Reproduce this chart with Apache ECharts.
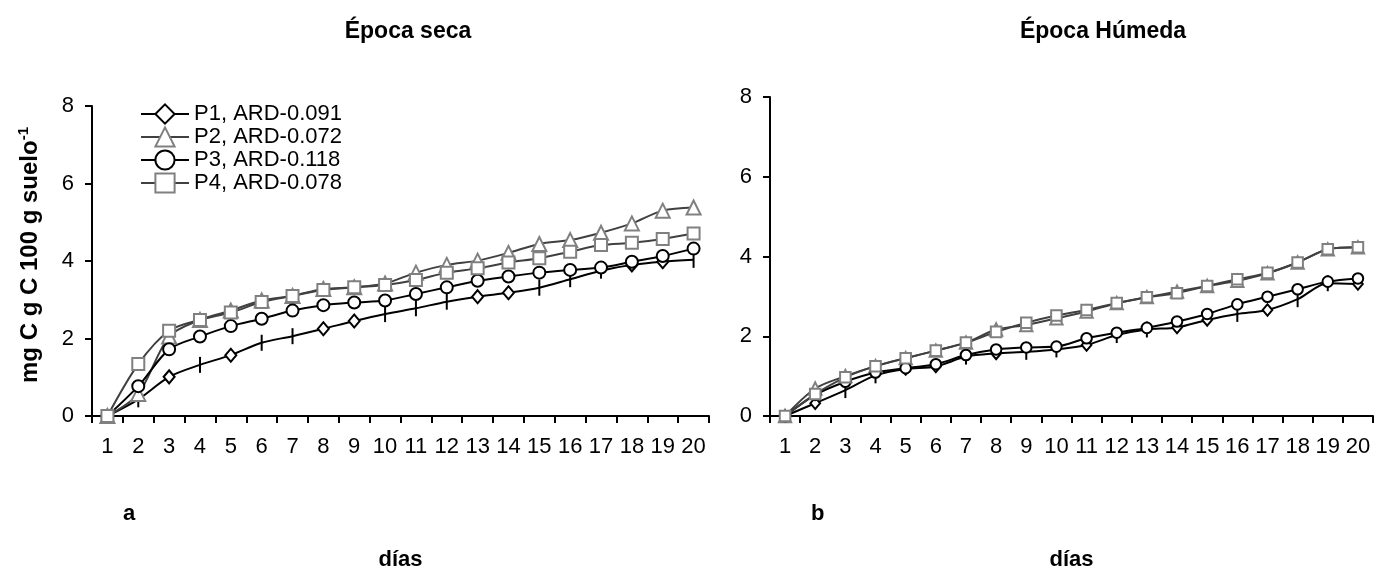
<!DOCTYPE html>
<html>
<head>
<meta charset="utf-8">
<title>Época seca / Época Húmeda</title>
<script src="https://cdn.jsdelivr.net/npm/echarts@6/dist/echarts.min.js"></script>
<style>
  html, body { margin: 0; padding: 0; background: #fff; }
  #chart { width: 1390px; height: 571px; }
</style>
</head>
<body>
<div id="chart"></div>
<script>
const days = ['1', '2', '3', '4', '5', '6', '7', '8', '9', '10', '11', '12', '13', '14', '15', '16', '17', '18', '19', '20'];
const yTicks = [0, 2, 4, 6, 8];

// Época seca
const p1Dry = [0, 0.43, 1.01, 1.32, 1.57, 1.89, 2.06, 2.25, 2.45, 2.63, 2.78, 2.95, 3.08, 3.18, 3.31, 3.53, 3.75, 3.90, 3.98, 4.03];
const p2Dry = [0, 0.57, 2.05, 2.48, 2.72, 2.98, 3.10, 3.28, 3.32, 3.42, 3.70, 3.90, 4.01, 4.21, 4.44, 4.54, 4.73, 4.97, 5.30, 5.38];
const p3Dry = [0, 0.77, 1.72, 2.05, 2.32, 2.51, 2.72, 2.86, 2.93, 2.98, 3.15, 3.32, 3.49, 3.60, 3.70, 3.77, 3.83, 3.98, 4.13, 4.32];
const p4Dry = [0, 1.34, 2.20, 2.48, 2.67, 2.94, 3.10, 3.25, 3.32, 3.38, 3.51, 3.70, 3.81, 3.96, 4.07, 4.24, 4.41, 4.47, 4.57, 4.71];

// Época Húmeda
const p1Wet = [0, 0.32, 0.65, 1.02, 1.18, 1.24, 1.49, 1.57, 1.61, 1.67, 1.78, 2.03, 2.17, 2.22, 2.41, 2.56, 2.66, 2.93, 3.33, 3.31];
const p2Wet = [0, 0.69, 1.00, 1.25, 1.45, 1.64, 1.84, 2.17, 2.28, 2.45, 2.62, 2.83, 2.98, 3.12, 3.26, 3.39, 3.58, 3.85, 4.18, 4.23];
const p3Wet = [0, 0.53, 0.86, 1.09, 1.20, 1.30, 1.53, 1.67, 1.72, 1.74, 1.95, 2.09, 2.21, 2.37, 2.56, 2.80, 2.99, 3.18, 3.37, 3.45];
const p4Wet = [0, 0.55, 0.97, 1.25, 1.45, 1.64, 1.84, 2.11, 2.34, 2.52, 2.66, 2.83, 2.98, 3.08, 3.26, 3.43, 3.59, 3.85, 4.18, 4.23];

// P1 marker at each day: d = diamond, t = vertical bar
const p1DryMarks = ['d', 't', 'd', 't', 'd', 't', 't', 'd', 'd', 't', 't', 't', 'd', 'd', 't', 't', 't', 'd', 'd', 't'];
const p1WetMarks = ['d', 'd', 't', 't', 'd', 'd', 't', 'd', 't', 't', 'd', 't', 't', 'd', 'd', 't', 'd', 't', 't', 'd'];

const seriesNames = ['P1, ARD-0.091', 'P2, ARD-0.072', 'P3, ARD-0.118', 'P4, ARD-0.078'];

const FONT = 'Liberation Sans, Arial, sans-serif';

function p1Data(values, marks) {
  return values.map((v, i) => marks[i] === 't'
    ? { value: v, symbol: 'rect', symbolSize: [2, 16], itemStyle: { color: '#000', borderWidth: 0 } }
    : v);
}

function makeSeries(idx) {
  const sets = idx === 0
    ? [p1Data(p1Dry, p1DryMarks), p2Dry, p3Dry, p4Dry]
    : [p1Data(p1Wet, p1WetMarks), p2Wet, p3Wet, p4Wet];
  const k = idx === 0 ? 1 : 0.88;
  const styles = [
    { symbol: 'diamond', size: [11 * k, 13 * k], line: '#000', mark: '#000' },
    { symbol: 'triangle', size: 14 * k, line: '#404040', mark: '#808080' },
    { symbol: 'circle', size: 12 * k, line: '#000', mark: '#000' },
    { symbol: 'rect', size: 12 * k, line: '#404040', mark: '#808080' },
  ];
  return sets.map((data, i) => ({
    name: seriesNames[i],
    type: 'line',
    xAxisIndex: idx,
    yAxisIndex: idx,
    smooth: 0.3,
    data: data,
    symbol: styles[i].symbol,
    symbolSize: styles[i].size,
    showAllSymbol: true,
    lineStyle: { color: styles[i].line, width: 2 },
    itemStyle: { color: '#fff', borderColor: styles[i].mark, borderWidth: 2 },
    emphasis: { disabled: true },
  }));
}

function makeXAxis(idx) {
  return {
    type: 'category',
    gridIndex: idx,
    data: days,
    boundaryGap: true,
    name: 'días',
    nameLocation: 'middle',
    nameGap: 133,
    nameTextStyle: { fontFamily: FONT, fontSize: 22, fontWeight: 'bold', color: '#000' },
    axisLine: { lineStyle: { color: '#000', width: 2 } },
    axisTick: { show: true, length: 7, alignWithLabel: false, interval: 0, lineStyle: { color: '#000', width: 2 } },
    axisLabel: { interval: 0, hideOverlap: false, margin: 20, fontFamily: FONT, fontSize: 22, color: '#000' },
    splitLine: { show: false },
  };
}

function makeYAxis(idx) {
  return {
    type: 'value',
    gridIndex: idx,
    min: yTicks[0],
    max: yTicks[yTicks.length - 1],
    interval: yTicks[1] - yTicks[0],
    name: idx === 0 ? '{b|mg C g C 100 g suelo}{s|-1}' : '',
    nameLocation: 'middle',
    nameGap: 48,
    nameTextStyle: {
      padding: [0, 0, 0, 12],
      rich: {
        b: { fontFamily: FONT, fontSize: 24, fontWeight: 'bold', color: '#000' },
        s: { fontFamily: FONT, fontSize: 15, fontWeight: 'bold', color: '#000', verticalAlign: 'top', padding: [0, 0, 13, 0] },
      },
    },
    axisLine: { show: true, lineStyle: { color: '#000', width: 2 } },
    axisTick: { show: true, length: 7, lineStyle: { color: '#000', width: 2 } },
    axisLabel: { margin: 18, fontFamily: FONT, fontSize: 22, color: '#000' },
    splitLine: { show: false },
  };
}

const titleStyle = { fontFamily: FONT, fontSize: 23, fontWeight: 'bold', color: '#000' };
const letterStyle = { fontFamily: FONT, fontSize: 22, fontWeight: 'bold', color: '#000' };

const option = {
  animation: false,
  backgroundColor: '#fff',
  title: [
    { text: 'Época seca', left: 403, top: 15, textAlign: 'center', textStyle: titleStyle },
    { text: 'Época Húmeda', left: 1098, top: 15, textAlign: 'center', textStyle: titleStyle },
    { text: 'a', left: 118, top: 498, textStyle: letterStyle },
    { text: 'b', left: 806, top: 498, textStyle: letterStyle },
  ],
  legend: {
    data: seriesNames,
    orient: 'vertical',
    left: 135,
    top: 98,
    itemWidth: 48,
    itemHeight: 24,
    itemGap: 1,
    selectedMode: false,
    textStyle: { fontFamily: FONT, fontSize: 22, color: '#000' },
  },
  grid: [
    { left: 92, top: 106, width: 617, height: 310, outerBoundsMode: 'none' },
    { left: 770, top: 97, width: 603, height: 319, outerBoundsMode: 'none' },
  ],
  xAxis: [makeXAxis(0), makeXAxis(1)],
  yAxis: [makeYAxis(0), makeYAxis(1)],
  series: makeSeries(0).concat(makeSeries(1)),
};

const chart = echarts.init(document.getElementById('chart'));
chart.setOption(option);
</script>
</body>
</html>
